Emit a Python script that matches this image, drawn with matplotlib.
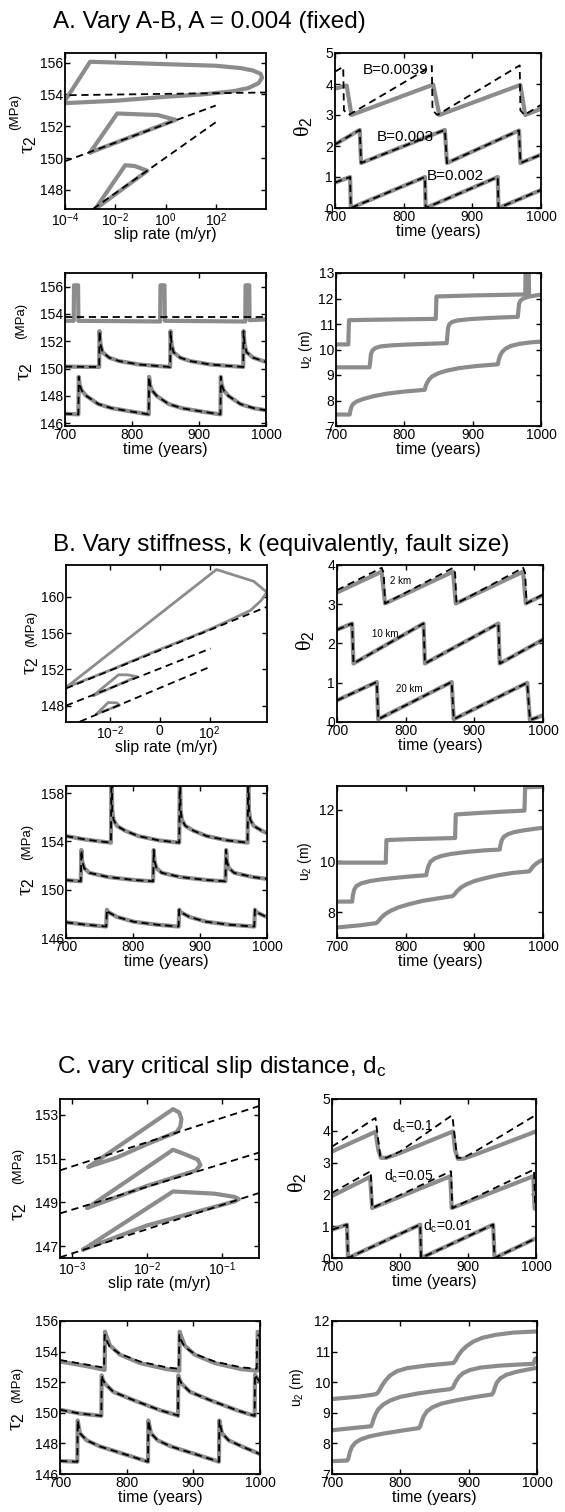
import matplotlib
matplotlib.use('Agg')
from matplotlib import pyplot as plt
from matplotlib.ticker import NullLocator

plt.rcParams['font.family'] = ['Liberation Sans', 'DejaVu Sans']
plt.rcParams['mathtext.fontset'] = 'custom'
plt.rcParams['mathtext.rm'] = 'Liberation Sans'
plt.rcParams['mathtext.it'] = 'Liberation Serif'
plt.rcParams['mathtext.bf'] = 'Liberation Sans:bold'

# ---------------- A. vary A-B ----------------
# tau vs slip rate
a_v_loop1 = [1.1e-4, 1e-3, 1e0, 1e2, 1e3, 3e3, 6e3, 7e3, 5e3, 2e3, 5e2, 3e1, 1e0, 1e-2, 1e-4]
a_t_loop1 = [153.7, 156.05, 155.9, 155.8, 155.65, 155.5, 155.3, 155.05, 154.7, 154.4, 154.2, 154.0, 153.85, 153.6, 153.45]
a_v_dash1 = [1.5e-4, 1e4]
a_t_dash1 = [153.95, 154.12]
a_v_loop2 = [1e-3, 1.2e-2, 5e-1, 2.5, 1e-3]
a_t_loop2 = [150.35, 152.8, 152.7, 152.4, 150.35]
a_v_dash2 = [1e-4, 1e2]
a_t_dash2 = [149.8, 153.3]
a_v_loop3 = [1.6e-3, 2.5e-2, 6e-2, 1.9e-1, 1.6e-3]
a_t_loop3 = [146.8, 149.55, 149.5, 149.2, 146.8]
a_v_dash3 = [1.3e-3, 1e2]
a_t_dash3 = [146.8, 152.25]

# theta vs time
a_th_t1 = [700, 717, 724, 843, 852, 970, 977, 1000]
a_th_y1 = [3.85, 3.95, 3.0, 3.98, 3.0, 3.97, 3.0, 3.2]
a_th_t1d = [700, 712, 713, 720, 841, 842, 849, 969, 970, 976, 1000]
a_th_y1d = [4.4, 4.55, 3.15, 3.0, 4.58, 3.15, 3.0, 4.6, 3.15, 3.0, 3.33]
a_th_t2 = [700, 736, 738, 860, 863, 968, 970, 1000]
a_th_y2 = [2.05, 2.52, 1.45, 2.52, 1.45, 2.5, 1.45, 1.72]
a_th_t3 = [700, 722, 723, 831, 832, 937, 938, 1000]
a_th_y3 = [0.82, 1.0, 0.0, 1.0, 0.0, 1.0, 0.0, 0.58]

# tau vs time
a_tau_t1 = [700, 713, 713.5, 719.5, 720, 842, 842.5, 848.5, 849, 969, 969.5, 975, 975.5, 1000]
a_tau_y1 = [153.5, 153.5, 156.1, 156.1, 153.5, 153.45, 156.1, 156.1, 153.5, 153.45, 156.1, 156.1, 153.55, 153.6]
a_tau_t1d = [700, 1000]
a_tau_y1d = [153.8, 153.8]
a_tau_t2 = [700, 751, 751.5, 753, 756, 766, 781, 811, 857, 857.5, 859, 862, 872, 887, 917, 966,
            966.5, 968, 971, 981, 996, 1000]
a_tau_y2 = [150.15, 150.12, 152.75, 151.8, 151.2, 150.8, 150.55, 150.3, 150.12, 152.75, 151.8, 151.2,
            150.8, 150.55, 150.3, 150.12, 152.75, 151.8, 151.2, 150.8, 150.55, 150.5]
a_tau_t3 = [700, 720, 720.5, 722, 725, 732, 750, 770, 800, 825, 825.5, 827, 830, 837, 855, 875, 905,
            932, 932.5, 934, 937, 944, 962, 982, 1000]
a_tau_y3 = [146.7, 146.65, 149.4, 148.8, 148.4, 148.0, 147.4, 147.1, 146.85, 146.65, 149.4, 148.8, 148.4,
            148.0, 147.4, 147.1, 146.85, 146.65, 149.4, 148.8, 148.4, 148.0, 147.4, 147.1, 146.95]

# slip vs time
a_u_t1 = [700, 718, 719, 760, 846, 847, 900, 977, 977.5, 982, 982.5]
a_u_y1 = [10.2, 10.2, 11.15, 11.17, 11.2, 12.08, 12.12, 12.16, 13.5, 13.5, 12.1]
a_u_t2 = [700, 749, 750, 751, 753, 757, 765, 780, 800, 830, 862, 863, 864, 866, 870, 878, 895, 920,
          945, 966, 967, 968, 970, 974, 982, 992, 1000]
a_u_y2 = [9.3, 9.3, 9.5, 9.8, 9.95, 10.05, 10.12, 10.16, 10.19, 10.22, 10.25, 10.55, 10.85, 11.0, 11.08,
          11.14, 11.19, 11.23, 11.26, 11.28, 11.55, 11.8, 11.92, 12.0, 12.07, 12.12, 12.15]
a_u_t3 = [700, 720, 721, 722.5, 725, 730, 740, 755, 775, 800, 830, 831, 833, 836, 841, 850, 862, 880,
          905, 937, 938, 940, 943, 948, 956, 968, 985, 1000]
a_u_y3 = [7.45, 7.45, 7.6, 7.75, 7.86, 7.96, 8.06, 8.17, 8.27, 8.35, 8.42, 8.55, 8.68, 8.82, 8.95, 9.07,
          9.17, 9.27, 9.35, 9.42, 9.58, 9.75, 9.9, 10.03, 10.14, 10.22, 10.28, 10.31]

# ---------------- B. vary stiffness ----------------
b_v_loop1 = [1.7e-4, 1.9e2, 6e3, 2.0e4, 1.2e4, 4.4e3, 9e2, 1e2, 1e0, 1e-2, 1.7e-4]
b_t_loop1 = [150.0, 163.0, 161.7, 160.5, 159.6, 158.5, 157.6, 156.4, 154.2, 151.9, 150.0]
b_v_dash1 = [1.7e-4, 2.04e4]
b_t_dash1 = [149.9, 158.9]
b_v_loop2 = [2.1e-3, 2.2e-2, 5e-2, 1.2e-1, 2.1e-3]
b_t_loop2 = [149.1, 151.4, 151.4, 151.2, 149.1]
b_v_dash2 = [1.7e-4, 1.1e2]
b_t_dash2 = [148.0, 154.3]
b_v_loop3 = [2.9e-3, 8.5e-3, 1.9e-2, 2.4e-2, 2.9e-3]
b_t_loop3 = [147.1, 148.35, 148.3, 148.05, 147.1]
b_v_dash3 = [6.2e-4, 1.1e2]
b_t_dash3 = [146.25, 152.3]

b_th_t1 = [700, 765, 770, 869, 873, 971, 975, 1000]
b_th_y1 = [3.3, 3.83, 3.02, 3.83, 3.02, 3.83, 3.02, 3.23]
b_th_t1d = [700, 762, 765, 768, 770, 866, 869, 872, 874, 968, 971, 974, 976, 1000]
b_th_y1d = [3.36, 3.9, 3.93, 3.8, 3.02, 3.9, 3.93, 3.8, 3.02, 3.9, 3.93, 3.8, 3.02, 3.25]
b_th_t2 = [700, 722, 724, 826, 828, 935, 937, 1000]
b_th_y2 = [2.35, 2.51, 1.49, 2.51, 1.49, 2.51, 1.49, 2.1]
b_th_t3 = [700, 758, 760, 867, 870, 977, 981, 1000]
b_th_y3 = [0.55, 1.02, 0.07, 1.02, 0.07, 1.0, 0.05, 0.17]

b_tau_t1 = [700, 730, 767, 768, 769, 771, 776, 788, 808, 838, 869, 870, 871, 873, 878, 890, 910, 940,
            971, 972, 973, 975, 980, 992, 1000]
b_tau_y1 = [154.45, 154.15, 153.9, 160.5, 156.6, 155.8, 155.3, 154.9, 154.45, 154.1, 153.9, 160.5, 156.6,
            155.8, 155.3, 154.9, 154.45, 154.1, 153.9, 160.5, 156.6, 155.8, 155.3, 154.9, 154.7]
b_tau_t2 = [700, 722, 723, 724, 727, 735, 763, 803, 830, 831, 832, 835, 843, 871, 911, 938, 939, 940,
            943, 951, 979, 1000]
b_tau_y2 = [150.8, 150.7, 153.3, 152.4, 151.8, 151.4, 151.05, 150.8, 150.7, 153.3, 152.4, 151.8, 151.4,
            151.05, 150.8, 150.7, 153.3, 152.4, 151.8, 151.4, 151.05, 150.9]
b_tau_t3 = [700, 730, 760, 761, 763, 776, 801, 836, 868, 869, 871, 884, 909, 944, 981, 982, 984, 997, 1000]
b_tau_y3 = [147.3, 147.1, 146.95, 148.35, 148.15, 147.75, 147.35, 147.1, 146.95, 148.35, 148.15, 147.75,
            147.35, 147.1, 146.95, 148.35, 148.15, 147.8, 147.75]

b_u_t1 = [700, 771, 772, 800, 872, 873, 920, 973, 974, 1000]
b_u_y1 = [9.94, 9.94, 10.82, 10.85, 10.9, 11.82, 11.9, 11.97, 12.88, 12.9]
b_u_t2 = [700, 722, 723, 725, 728, 735, 748, 765, 790, 815, 830, 831, 833, 836, 842, 852, 866, 890,
          915, 937, 938, 940, 943, 949, 958, 972, 988, 1000]
b_u_y2 = [8.42, 8.42, 8.65, 8.88, 9.02, 9.13, 9.22, 9.29, 9.36, 9.42, 9.45, 9.6, 9.8, 9.97, 10.1, 10.2,
          10.28, 10.36, 10.42, 10.45, 10.62, 10.82, 10.95, 11.05, 11.13, 11.2, 11.26, 11.3]
b_u_t3 = [700, 735, 757, 760, 764, 770, 778, 790, 805, 825, 848, 868, 871, 875, 881, 889, 900, 915,
          935, 956, 980, 982, 985, 990, 995, 1000]
b_u_y3 = [7.41, 7.5, 7.58, 7.65, 7.78, 7.93, 8.06, 8.2, 8.32, 8.45, 8.55, 8.63, 8.7, 8.83, 8.98, 9.1,
          9.22, 9.33, 9.45, 9.54, 9.6, 9.66, 9.78, 9.9, 9.99, 10.06]

# ---------------- C. vary dc ----------------
c_v_loop1 = [1.66e-3, 2.24e-2, 2.7e-2, 2.9e-2, 2.8e-2, 2.5e-2, 1e-2, 4e-3, 1.66e-3]
c_t_loop1 = [150.62, 153.25, 153.1, 152.8, 152.45, 152.2, 151.65, 151.05, 150.62]
c_v_dash1 = [6.9e-4, 3.16e-1]
c_t_dash1 = [150.46, 153.39]
c_v_loop2 = [1.6e-3, 2.24e-2, 3.2e-2, 4.8e-2, 5.2e-2, 4.5e-2, 1e-2, 1.6e-3]
c_t_loop2 = [148.75, 151.4, 151.2, 150.95, 150.7, 150.45, 149.75, 148.75]
c_v_dash2 = [6.9e-4, 3.16e-1]
c_t_dash2 = [148.5, 151.27]
c_v_loop3 = [1.4e-3, 2.24e-2, 8e-2, 1.5e-1, 1.7e-1, 1.5e-1, 1e-2, 1.4e-3]
c_t_loop3 = [146.85, 149.5, 149.4, 149.25, 149.15, 149.05, 147.95, 146.85]
c_v_dash3 = [6.9e-4, 3.16e-1]
c_t_dash3 = [146.5, 149.43]

c_th_t1 = [700, 764, 768, 772, 780, 800, 878, 881, 885, 893, 913, 1000]
c_th_y1 = [3.35, 3.97, 3.4, 3.15, 3.15, 3.3, 3.98, 3.4, 3.12, 3.12, 3.27, 3.98]
c_th_t1d = [700, 762, 764, 771, 780, 800, 874, 877, 884, 893, 913, 1000]
c_th_y1d = [3.5, 4.38, 4.4, 3.2, 3.15, 3.35, 4.45, 4.47, 3.15, 3.15, 3.38, 4.5]
c_th_t2 = [700, 756, 759, 874, 876, 996, 998, 1000]
c_th_y2 = [1.95, 2.55, 1.57, 2.57, 1.57, 2.57, 1.55, 1.55]
c_th_t2d = [700, 757, 759, 875, 877, 997, 999]
c_th_y2d = [2.05, 2.73, 1.57, 2.73, 1.57, 2.78, 1.6]
c_th_t3 = [700, 722, 723.5, 829.7, 831, 937, 939, 1000]
c_th_y3 = [0.89, 1.05, 0.0, 1.05, 0.0, 1.05, 0.0, 0.62]

c_tau_t1 = [700, 740, 767, 767.5, 769, 775, 790, 820, 860, 879, 879.5, 881, 887, 902, 932, 972, 996, 996.5, 1000]
c_tau_y1 = [153.35, 153.05, 152.8, 155.3, 155.1, 154.4, 153.8, 153.25, 152.85, 152.75, 155.3, 155.1, 154.4,
            153.8, 153.25, 152.85, 152.75, 155.3, 155.2]
c_tau_t1d = [700, 740, 766, 767, 769, 775, 790, 820, 860, 878, 879, 881, 887, 902, 932, 972, 995, 996, 1000]
c_tau_y1d = [153.45, 153.15, 152.95, 155.1, 154.8, 154.3, 153.85, 153.35, 152.97, 152.88, 155.1, 154.8, 154.3,
             153.85, 153.35, 152.97, 152.88, 155.1, 155.0]
c_tau_t2 = [700, 730, 762, 762.5, 764, 767.5, 780, 810, 850, 875, 877, 877.5, 879, 882.5, 895, 925, 965,
            992, 992.5, 995, 1000]
c_tau_y2 = [150.2, 149.95, 149.8, 152.45, 152.2, 151.9, 151.37, 150.83, 150.17, 149.85, 149.8, 152.45, 152.2,
            151.9, 151.37, 150.83, 150.17, 149.8, 152.5, 152.3, 152.0]
c_tau_t3 = [700, 726, 726.5, 730, 740, 760, 800, 832, 832.5, 836.5, 846.5, 866.5, 906.5, 938.5, 939, 943,
            953, 973, 1000]
c_tau_y3 = [146.85, 146.8, 149.5, 148.66, 148.2, 147.8, 147.25, 146.8, 149.5, 148.66, 148.2, 147.8, 147.25,
            146.8, 149.5, 148.66, 148.2, 147.8, 147.3]

c_u_t1 = [700, 740, 762, 766, 769, 773, 778, 785, 795, 810, 840, 870, 878, 881, 885, 890, 897, 907,
          920, 940, 965, 1000]
c_u_y1 = [9.45, 9.53, 9.6, 9.63, 9.72, 9.88, 10.05, 10.22, 10.36, 10.46, 10.55, 10.61, 10.63, 10.72,
          10.88, 11.03, 11.18, 11.33, 11.45, 11.55, 11.62, 11.66]
c_u_t2 = [700, 730, 757, 759, 761, 764, 768, 775, 785, 800, 825, 850, 872, 877, 879, 882, 886, 892,
          902, 918, 945, 975, 995, 997, 1000]
c_u_y2 = [8.43, 8.5, 8.56, 8.65, 8.8, 8.97, 9.12, 9.27, 9.4, 9.52, 9.63, 9.71, 9.77, 9.82, 9.92, 10.05,
          10.18, 10.3, 10.4, 10.48, 10.54, 10.58, 10.6, 10.75, 10.8]
c_u_t3 = [700, 722, 724, 726, 729, 734, 742, 755, 775, 800, 827, 829, 831, 834, 839, 847, 860, 880,
          905, 934, 936, 938, 941, 946, 955, 970, 990, 1000]
c_u_y3 = [7.42, 7.44, 7.5, 7.7, 7.88, 8.02, 8.13, 8.23, 8.32, 8.41, 8.5, 8.55, 8.7, 8.88, 9.05, 9.18,
          9.3, 9.4, 9.5, 9.6, 9.66, 9.8, 9.98, 10.12, 10.24, 10.34, 10.43, 10.47]

W, H = 565, 1512
fig = plt.figure(figsize=(W / 100, H / 100), dpi=100)
GRAY = '#8c8c8c'


def box(l, t, r, b):
    ax = fig.add_axes([l / W, 1 - b / H, (r - l) / W, (b - t) / H])
    ax.tick_params(direction='in', top=True, right=True, labelsize=10, pad=1.5, length=3.5, width=1)
    for s in ax.spines.values():
        s.set_linewidth(1.3)
    return ax


def ftext(x, y, s, **kw):
    fig.text(x / W, 1 - y / H, s, **kw)


def gray(ax, x, y, lw=3):
    ax.plot(x, y, color=GRAY, lw=lw, solid_joinstyle='round', solid_capstyle='round')


def dash(ax, x, y):
    ax.plot(x, y, color='k', lw=1.3, dashes=(4, 2.6))


def time_axis(ax):
    ax.set_xlim(700, 1000)
    ax.set_xticks([700, 800, 900, 1000])
    ax.set_xlabel('time (years)', fontsize=11.5, labelpad=0)


def tau_label(xt, yt, xm, ym):
    ftext(xt, yt, r'$\tau_2$', fontsize=16, rotation=90, ha='center', va='center')
    ftext(xm, ym, '(MPa)', fontsize=9.5, rotation=90, ha='center', va='center')


def logx(ax, lo, hi, ticks, labels):
    ax.set_xscale('log')
    ax.set_xlim(lo, hi)
    ax.set_xticks(ticks)
    ax.set_xticklabels(labels)
    ax.xaxis.set_minor_locator(NullLocator())
    ax.set_xlabel('slip rate (m/yr)', fontsize=11.5, labelpad=-1.5)


# titles
ftext(53, 28, 'A. Vary A-B, A = 0.004 (fixed)', fontsize=17.5, va='baseline')
ftext(53, 551, 'B. Vary stiffness, k (equivalently, fault size)', fontsize=17.5, va='baseline')
ftext(57, 1073, 'C. vary critical slip distance, d$_\\mathrm{c}$', fontsize=17.5, va='baseline')

# ---- A1
ax = box(65, 53, 266, 209)
gray(ax, a_v_loop1, a_t_loop1)
gray(ax, a_v_loop2, a_t_loop2)
gray(ax, a_v_loop3, a_t_loop3)
dash(ax, a_v_dash1, a_t_dash1)
dash(ax, a_v_dash2, a_t_dash2)
dash(ax, a_v_dash3, a_t_dash3)
logx(ax, 1e-4, 1e4, [1e-4, 1e-2, 1, 1e2], ['$10^{-4}$', '$10^{-2}$', '$10^{0}$', '$10^{2}$'])
ax.set_ylim(146.8, 156.6)
ax.set_yticks([148, 150, 152, 154, 156])
tau_label(27, 145, 15, 112)

# ---- A2
ax = box(335, 53, 541, 208)
gray(ax, a_th_t1, a_th_y1)
dash(ax, a_th_t1d, a_th_y1d)
gray(ax, a_th_t2, a_th_y2)
dash(ax, a_th_t2, a_th_y2)
gray(ax, a_th_t3, a_th_y3)
dash(ax, a_th_t3, a_th_y3)
ax.text(741, 4.45, 'B=0.0039', fontsize=11, va='center')
ax.text(761, 2.3, 'B=0.003', fontsize=11, va='center')
ax.text(833, 1.02, 'B=0.002', fontsize=11, va='center')
time_axis(ax)
ax.set_ylim(0, 5)
ax.set_yticks([0, 1, 2, 3, 4, 5])
ftext(303, 127, r'$\theta_2$', fontsize=16, rotation=90, ha='center', va='center')

# ---- A3
ax = box(65, 273, 266, 426)
gray(ax, a_tau_t1, a_tau_y1)
dash(ax, a_tau_t1d, a_tau_y1d)
gray(ax, a_tau_t2, a_tau_y2)
dash(ax, a_tau_t2, a_tau_y2)
gray(ax, a_tau_t3, a_tau_y3)
dash(ax, a_tau_t3, a_tau_y3)
time_axis(ax)
ax.set_ylim(145.8, 157.0)
ax.set_yticks([146, 148, 150, 152, 154, 156])
tau_label(23, 372, 21, 321)

# ---- A4
ax = box(336, 273, 541, 426)
gray(ax, a_u_t1, a_u_y1)
gray(ax, a_u_t2, a_u_y2)
gray(ax, a_u_t3, a_u_y3)
time_axis(ax)
ax.set_ylim(7, 13)
ax.set_yticks([7, 8, 9, 10, 11, 12, 13])
ftext(306, 349, 'u$_2$ (m)', fontsize=10, rotation=90, ha='center', va='center')

# ---- B1
ax = box(66, 565, 267, 722)
gray(ax, b_v_loop1, b_t_loop1, lw=2)
gray(ax, b_v_loop2, b_t_loop2, lw=2)
gray(ax, b_v_loop3, b_t_loop3, lw=2)
dash(ax, b_v_dash1, b_t_dash1)
dash(ax, b_v_dash2, b_t_dash2)
dash(ax, b_v_dash3, b_t_dash3)
logx(ax, 1.7e-4, 2.04e4, [1e-2, 1, 1e2], ['$10^{-2}$', '0', '$10^{2}$'])
ax.set_ylim(146.2, 163.5)
ax.set_yticks([148, 152, 156, 160])
tau_label(29, 666, 31, 629)

# ---- B2
ax = box(337, 565, 543, 722)
gray(ax, b_th_t1, b_th_y1)
dash(ax, b_th_t1d, b_th_y1d)
gray(ax, b_th_t2, b_th_y2)
dash(ax, b_th_t2, b_th_y2)
gray(ax, b_th_t3, b_th_y3)
dash(ax, b_th_t3, b_th_y3)
ax.text(777, 3.6, '2 km', fontsize=7, va='center')
ax.text(751, 2.24, '10 km', fontsize=7, va='center')
ax.text(786, 0.83, '20 km', fontsize=7, va='center')
time_axis(ax)
ax.set_ylim(0, 4)
ax.set_yticks([0, 1, 2, 3, 4])
ftext(305, 641, r'$\theta_2$', fontsize=16, rotation=90, ha='center', va='center')

# ---- B3
ax = box(66, 786, 267, 938)
gray(ax, b_tau_t1, b_tau_y1)
dash(ax, b_tau_t1, b_tau_y1)
gray(ax, b_tau_t2, b_tau_y2)
dash(ax, b_tau_t2, b_tau_y2)
gray(ax, b_tau_t3, b_tau_y3)
dash(ax, b_tau_t3, b_tau_y3)
time_axis(ax)
ax.set_ylim(146.0, 158.6)
ax.set_yticks([146, 150, 154, 158])
tau_label(26, 887, 27, 842)

# ---- B4
ax = box(337, 786, 543, 938)
gray(ax, b_u_t1, b_u_y1)
gray(ax, b_u_t2, b_u_y2)
gray(ax, b_u_t3, b_u_y3)
time_axis(ax)
ax.set_ylim(7.0, 12.93)
ax.set_yticks([8, 10, 12])
ftext(305, 861, 'u$_2$ (m)', fontsize=10, rotation=90, ha='center', va='center')

# ---- C1
ax = box(60, 1099, 259, 1258)
gray(ax, c_v_loop1, c_t_loop1)
gray(ax, c_v_loop2, c_t_loop2)
gray(ax, c_v_loop3, c_t_loop3)
dash(ax, c_v_dash1, c_t_dash1)
dash(ax, c_v_dash2, c_t_dash2)
dash(ax, c_v_dash3, c_t_dash3)
logx(ax, 6.9e-4, 3.16e-1, [1e-3, 1e-2, 1e-1], ['$10^{-3}$', '$10^{-2}$', '$10^{-1}$'])
ax.set_ylim(146.47, 153.71)
ax.set_yticks([147, 149, 151, 153])
tau_label(17, 1212, 18, 1166)

# ---- C2
ax = box(332, 1099, 536, 1258)
gray(ax, c_th_t1, c_th_y1)
dash(ax, c_th_t1d, c_th_y1d)
gray(ax, c_th_t2, c_th_y2)
dash(ax, c_th_t2d, c_th_y2d)
gray(ax, c_th_t3, c_th_y3)
dash(ax, c_th_t3, c_th_y3)
ax.text(788, 4.14, 'd$_\\mathrm{c}$=0.1', fontsize=10, va='center')
ax.text(776, 2.57, 'd$_\\mathrm{c}$=0.05', fontsize=10, va='center')
ax.text(834, 1.0, 'd$_\\mathrm{c}$=0.01', fontsize=10, va='center')
time_axis(ax)
ax.set_ylim(0, 5)
ax.set_yticks([0, 1, 2, 3, 4, 5])
ftext(297, 1183, r'$\theta_2$', fontsize=16, rotation=90, ha='center', va='center')

# ---- C3
ax = box(60, 1321, 260, 1474)
gray(ax, c_tau_t1, c_tau_y1)
dash(ax, c_tau_t1d, c_tau_y1d)
gray(ax, c_tau_t2, c_tau_y2)
dash(ax, c_tau_t2, c_tau_y2)
gray(ax, c_tau_t3, c_tau_y3)
dash(ax, c_tau_t3, c_tau_y3)
time_axis(ax)
ax.set_ylim(146, 156)
ax.set_yticks([146, 148, 150, 152, 154, 156])
tau_label(16, 1422, 17, 1385)

# ---- C4
ax = box(332, 1321, 537, 1474)
gray(ax, c_u_t1, c_u_y1)
gray(ax, c_u_t2, c_u_y2)
gray(ax, c_u_t3, c_u_y3)
time_axis(ax)
ax.set_ylim(7, 12)
ax.set_yticks([7, 8, 9, 10, 11, 12])
ftext(297, 1387, 'u$_2$ (m)', fontsize=10, rotation=90, ha='center', va='center')

fig.savefig('out.png', dpi=100)
